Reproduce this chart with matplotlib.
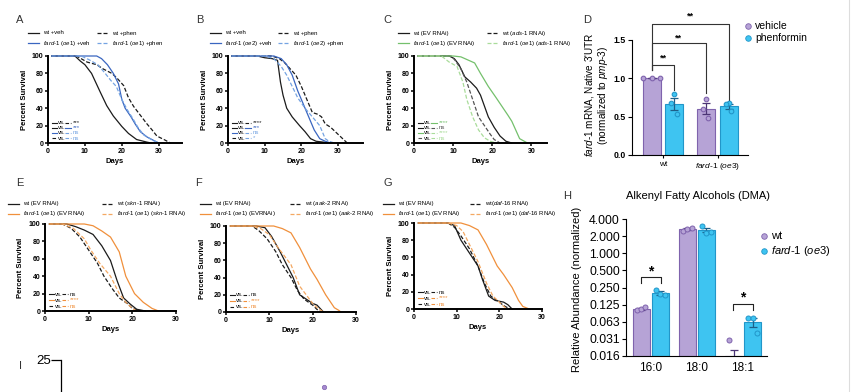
import matplotlib
matplotlib.use('Agg')
import matplotlib.pyplot as plt
import numpy as np
from matplotlib.lines import Line2D

plt.rcParams['font.family'] = ['Liberation Sans', 'DejaVu Sans']
plt.rcParams['mathtext.fontset'] = 'custom'
plt.rcParams['mathtext.it'] = 'Liberation Sans:italic'
plt.rcParams['mathtext.rm'] = 'Liberation Sans'
plt.rcParams['mathtext.bf'] = 'Liberation Sans:bold'

# ---- survival data (days, percent survival) ----
a_wt_veh = ([1, 7.3, 8.8, 10, 11.8, 14.1, 15.9, 17.7, 20, 21.8, 24, 26.8, 28],
            [100, 100, 94, 90, 80, 59, 43, 31, 19, 11, 4, 1, 0])
a_wt_phen = ([1, 7.7, 10.6, 13.2, 15, 17.3, 18.6, 20.5, 21.8, 23.2, 25, 26.8, 28.2, 29.5, 31.4, 33.2],
             [100, 100, 93, 90, 85, 80, 75, 66, 52, 42, 32, 22, 15, 8, 4, 0])
a_fard_veh = ([1, 13.2, 14.5, 16.1, 17.7, 19.1, 20, 20.9, 22.5, 23.6, 25, 26.8, 28.6, 30],
              [100, 100, 97, 90, 80, 68, 50, 40, 30, 22, 13, 7, 3, 0])
a_fard_phen = ([1, 9, 11, 13.5, 15.5, 17, 18.5, 20, 21.5, 23, 24.5, 26, 28, 30],
               [100, 100, 96, 90, 80, 72, 65, 50, 38, 28, 17, 9, 4, 0])

b_wt_veh = ([1, 8, 10, 12, 13.5, 14.3, 15, 16, 17.5, 19.5, 21, 22.5, 24, 26, 28],
            [100, 100, 98, 97, 95, 70, 55, 40, 30, 20, 13, 5, 2, 1, 0])
b_wt_phen = ([1, 12, 14, 15.5, 17, 18.5, 20, 21.5, 23, 24.5, 25.5, 26.5, 28, 29.5, 31, 32.5],
             [100, 100, 97, 92, 85, 78, 65, 50, 35, 33, 30, 22, 18, 12, 6, 0])
b_fard_veh = ([1, 12.5, 14.5, 16, 17.5, 19, 20.5, 22, 23.5, 25, 26.5, 28],
              [100, 100, 97, 90, 78, 60, 45, 30, 15, 5, 2, 0])
b_fard_phen = ([1, 10, 12.5, 14.5, 16, 17.5, 19, 21, 23, 25, 26.5, 27.5, 29],
               [100, 100, 97, 88, 78, 65, 52, 40, 30, 20, 5, 2, 0])

c_wt_ev = ([1, 9, 10.3, 11.5, 13, 14.5, 16, 17, 17.8, 19, 20.5, 22, 23.5, 25],
           [100, 100, 97, 90, 76, 70, 63, 55, 45, 30, 18, 8, 2, 0])
c_wt_ads = ([1, 9.5, 10.5, 12, 13.5, 15, 16.5, 18, 19.5, 20.5, 22],
            [100, 100, 95, 85, 70, 50, 30, 20, 10, 4, 0])
c_fard_ev = ([1, 10, 12, 14, 15.5, 17, 19, 21, 22.5, 24, 25, 26, 27, 29],
             [100, 100, 99, 95, 92, 80, 65, 52, 42, 32, 25, 15, 5, 0])
c_fard_ads = ([1, 7, 9, 11, 12.5, 13.5, 15, 16.5, 18, 19.5, 21],
              [100, 100, 93, 88, 70, 50, 30, 15, 6, 2, 0])

e_wt_ev = ([1, 5, 7, 9, 11, 13, 15, 16.5, 18, 19.5, 21, 23],
           [100, 100, 97, 93, 88, 75, 58, 35, 15, 8, 2, 0])
e_wt_skn = ([1, 4, 6, 8, 10, 12, 13.5, 15.5, 17, 19, 20, 22],
            [100, 100, 95, 85, 70, 55, 40, 25, 15, 8, 3, 0])
e_fard_ev = ([1, 9, 11, 13, 15, 17, 18.5, 20.5, 22.5, 24.5, 26],
             [100, 100, 98, 92, 85, 68, 40, 20, 10, 3, 0])
e_fard_skn = ([1, 4, 6.5, 9, 10.5, 12.5, 15, 16, 17, 18.5, 20, 21],
              [100, 100, 95, 83, 70, 55, 40, 30, 20, 10, 3, 0])

f_wt_ev = ([1, 7, 9, 10.5, 12.5, 14, 15.5, 17, 18.5, 20, 21, 22.5],
           [100, 100, 98, 88, 70, 55, 40, 20, 15, 10, 8, 0])
f_wt_aak = ([1, 6, 7.5, 9.5, 11.5, 13, 15, 16.5, 18, 20, 21, 22],
            [100, 100, 95, 85, 70, 55, 40, 25, 15, 8, 3, 0])
f_fard_ev = ([1, 11, 13, 15, 17, 19.5, 21, 23, 25, 26, 26.5],
             [100, 100, 97, 92, 75, 50, 38, 20, 5, 2, 0])
f_fard_aak = ([1, 6, 8, 10, 12, 15, 17, 18.5, 20, 21, 22.5],
              [100, 100, 97, 90, 75, 55, 30, 20, 10, 5, 0])

g_wt_ev = ([1, 8, 9.5, 11, 13, 15, 16, 17.5, 19, 21, 22, 23],
           [100, 100, 97, 80, 65, 50, 35, 15, 10, 8, 5, 0])
g_wt_daf = ([1, 8, 9.5, 11, 13, 15, 16.5, 18, 20, 21, 22.5],
            [100, 100, 95, 85, 70, 50, 30, 15, 8, 4, 0])
g_fard_ev = ([1, 11, 13, 15, 17, 19.5, 21, 23, 24.5, 25.5, 27],
             [100, 100, 97, 92, 75, 50, 40, 25, 10, 3, 0])
g_fard_daf = ([1, 8, 10, 11.5, 13, 15, 17, 18.5, 20, 21, 22],
              [100, 100, 97, 90, 75, 55, 30, 15, 8, 3, 0])

# ---- panel D: fard-1 mRNA ----
d_groups = ['wt', 'fard-1 (oe3)']
d_vehicle = [[1.0, 1.0, 1.0], [0.73, 0.60, 0.48]]
d_phenformin = [[0.79, 0.68, 0.53], [0.68, 0.66, 0.57]]

# ---- panel H: alkenyl fatty alcohols ----
h_groups = ['16:0', '18:0', '18:1']
h_wt = [[0.100, 0.106, 0.112], [2.50, 2.65, 2.80], [0.030, 0.0, 0.0]]
h_fard = [[0.23, 0.19, 0.185], [3.0, 2.3, 2.4], [0.072, 0.072, 0.040]]
h_ticks = [0.015625, 0.03125, 0.0625, 0.125, 0.25, 0.5, 1, 2, 4]
h_ticklabels = ['0.016', '0.031', '0.063', '0.125', '0.250', '0.500', '1.000', '2.000', '4.000']

# ---- panel I (cut off) ----
i_x = [1.7]
i_y = [21.6]

BLK = '#1b1b1b'
GRAY = '#555555'
BLUE = '#3a66c0'
BLUE_L = '#74a3e2'
GREEN = '#74c06c'
GREEN_L = '#a9dc9a'
ORANGE = '#f0903c'
ORANGE_L = '#f4a862'
PUR, PUR_E, PUR_D = '#b6a3d6', '#7f63ad', '#4b3575'
CYA, CYA_E, CYA_D = '#3ec4f1', '#2296c9', '#1e5f88'
DASH = (0, (3.2, 1.6))

W, H = 860, 392
fig = plt.figure(figsize=(8.6, 3.92), dpi=100)


def box(l, t, r, b):
    return fig.add_axes([l / W, 1 - b / H, (r - l) / W, (b - t) / H])


def ftext(x, y, s, **kw):
    return fig.text(x / W, 1 - y / H, s, **kw)


def fline(xs, ys, **kw):
    fig.add_artist(Line2D([x / W for x in xs], [1 - y / H for y in ys], **kw))


def ital(s):
    return '-'.join('$\\mathit{%s}$' % p.replace(' ', '\\ ') for p in s.split('-'))


def survival(bx, curves, xmax, legend, cols, rows_y, stats):
    l, t, r, b = bx
    ax = box(l, t, r, b)
    for (days, pct), color, ls in curves:
        ax.plot(days, pct, color=color, ls=ls, lw=0.9, clip_on=False)
    ax.set_xlim(0, xmax)
    ax.set_ylim(0, 100)
    for s in ['top', 'right']:
        ax.spines[s].set_visible(False)
    for s in ['left', 'bottom']:
        ax.spines[s].set_linewidth(1.4)
    ax.set_xticks([0, 10, 20, 30])
    ax.set_yticks([0, 20, 40, 60, 80, 100])
    ax.tick_params(length=2.5, width=1.1, labelsize=5, pad=1)
    for lab in ax.get_xticklabels() + ax.get_yticklabels():
        lab.set_fontweight('bold')
    ax.set_xlabel('Days', fontsize=5.5, fontweight='bold', labelpad=2)
    ftext(l - 24, (t + b) / 2, 'Percent Survival', rotation=90, fontsize=5.5,
          fontweight='bold', ha='center', va='center')
    # legend above axes
    for i, (color, ls, label) in enumerate(legend):
        x0 = cols[i % 2]
        y = rows_y[i // 2]
        fline([x0, x0 + 11], [y, y], color=color, ls=ls, lw=0.9)
        ftext(x0 + 15, y, label, fontsize=4.3, va='center')
    # log-rank comparisons
    step = 5 if len(stats) == 4 else 6
    for k, (ls1, c1, ls2, c2, txt) in enumerate(stats):
        y = b - 5 - step * (len(stats) - 1 - k)
        fline([l + 4, l + 9], [y, y], color=c1, ls=ls1, lw=0.8)
        ftext(l + 10, y, 'vs.', fontsize=4.3, va='center')
        fline([l + 17, l + 23], [y, y], color=c2, ls=ls2, lw=0.8)
        ftext(l + 25, y, txt, fontsize=4.3, va='center', color=c2)
    return ax


fard_oe1 = ital('fard-1 (oe1)')
fard_oe2 = ital('fard-1 (oe2)')

# A
survival((48, 56, 182, 143),
         [(a_wt_veh, BLK, '-'), (a_wt_phen, BLK, DASH), (a_fard_veh, BLUE, '-'), (a_fard_phen, BLUE_L, DASH)],
         36.3,
         [(BLK, '-', 'wt +veh'), (BLK, DASH, 'wt +phen'),
          (BLUE, '-', fard_oe1 + ' +veh'), (BLUE_L, DASH, fard_oe1 + ' +phen')],
         (28, 97), (33, 43),
         [('-', BLK, DASH, BLK, '***'), ('-', BLK, '-', BLUE, '***'),
          ('-', BLUE, DASH, BLUE_L, 'ns'), (DASH, BLK, DASH, BLUE_L, 'ns')])
# B
survival((228, 56, 363, 143),
         [(b_wt_veh, BLK, '-'), (b_wt_phen, BLK, DASH), (b_fard_veh, BLUE, '-'), (b_fard_phen, BLUE_L, DASH)],
         36.8,
         [(BLK, '-', 'wt +veh'), (BLK, DASH, 'wt +phen'),
          (BLUE, '-', fard_oe2 + ' +veh'), (BLUE_L, DASH, fard_oe2 + ' +phen')],
         (210, 278), (33, 43),
         [('-', BLK, DASH, BLK, '****'), ('-', BLK, '-', BLUE, '***'),
          ('-', BLUE, DASH, BLUE_L, 'ns'), (DASH, BLK, DASH, BLUE_L, '*')])
# C
survival((414, 56, 547, 143),
         [(c_wt_ev, BLK, '-'), (c_wt_ads, GRAY, DASH), (c_fard_ev, GREEN, '-'), (c_fard_ads, GREEN_L, DASH)],
         34,
         [(BLK, '-', 'wt (EV RNAi)'), (BLK, DASH, 'wt (' + ital('ads-1') + ' RNAi)'),
          (GREEN, '-', fard_oe1 + ' (EV RNAi)'), (GREEN_L, DASH, fard_oe1 + ' (' + ital('ads-1') + ' RNAi)')],
         (398, 487), (33, 43),
         [('-', BLK, '-', GREEN, '****'), ('-', BLK, DASH, GRAY, 'ns'),
          ('-', GREEN, DASH, GREEN_L, '****'), (DASH, GRAY, DASH, GREEN_L, 'ns')])

efg_stats = [('-', BLK, DASH, BLK, 'ns'), ('-', ORANGE, DASH, ORANGE, '****'), (DASH, BLK, DASH, ORANGE, 'ns')]
# E
survival((45, 224, 176, 311),
         [(e_wt_ev, BLK, '-'), (e_wt_skn, BLK, DASH), (e_fard_ev, ORANGE, '-'), (e_fard_skn, ORANGE_L, DASH)],
         30,
         [(BLK, '-', 'wt (EV RNAi)'), (BLK, DASH, 'wt (' + ital('skn-1') + ' RNAi)'),
          (ORANGE, '-', fard_oe1 + ' (EV RNAi)'), (ORANGE_L, DASH, fard_oe1 + ' (' + ital('skn-1') + ' RNAi)')],
         (8, 102), (204, 214), efg_stats)
# F
survival((226, 226, 356, 312),
         [(f_wt_ev, BLK, '-'), (f_wt_aak, BLK, DASH), (f_fard_ev, ORANGE, '-'), (f_fard_aak, ORANGE_L, DASH)],
         30,
         [(BLK, '-', 'wt (EV RNAi)'), (BLK, DASH, 'wt (' + ital('aak-2') + ' RNAi)'),
          (ORANGE, '-', fard_oe1 + ' (EVRNAi)'), (ORANGE_L, DASH, fard_oe1 + ' (' + ital('aak-2') + ' RNAi)')],
         (200, 290), (204, 214), efg_stats)
# G
survival((414, 223, 542, 309),
         [(g_wt_ev, BLK, '-'), (g_wt_daf, BLK, DASH), (g_fard_ev, ORANGE, '-'), (g_fard_daf, ORANGE_L, DASH)],
         30,
         [(BLK, '-', 'wt (EV RNAi)'), (BLK, DASH, 'wt(' + ital('daf-16') + ' RNAi)'),
          (ORANGE, '-', fard_oe1 + ' (EV RNAi)'), (ORANGE_L, DASH, fard_oe1 + ' (' + ital('daf-16') + ' RNAi)')],
         (383, 470), (204, 214), efg_stats)

# ---- D ----
axd = box(632, 10, 748, 155)
off, bw = 0.21, 0.33
xd = np.arange(len(d_groups))
jit = [-0.15, 0.0, 0.15]
for vals, sign, fc, ec, dc in [(d_vehicle, -1, PUR, PUR_E, PUR_D), (d_phenformin, 1, CYA, CYA_E, CYA_D)]:
    means = np.array([np.mean(v) for v in vals])
    sems = np.array([np.std(v, ddof=1) / np.sqrt(len(v)) for v in vals])
    xs = xd + sign * off
    axd.bar(xs, means, bw, color=fc, edgecolor=ec, lw=0.8, zorder=2)
    axd.errorbar(xs, means, yerr=sems, fmt='none', ecolor=dc, elinewidth=0.9, capsize=3, capthick=0.9, zorder=3)
    for x, v in zip(xs, vals):
        j = jit if np.ptp(v) < 0.05 else [0.0, -0.06, 0.04]
        axd.scatter(x + np.array(j), v, s=11, facecolor=fc, edgecolor=ec, lw=0.8, zorder=4)
axd.set_xlim(-0.57, 1.56)
axd.set_ylim(0, 1.89)
axd.spines['top'].set_visible(False)
axd.spines['right'].set_visible(False)
axd.spines['left'].set_bounds(0, 1.5)
axd.set_yticks([0, 0.5, 1.0, 1.5])
axd.set_yticklabels(['0.0', '0.5', '1.0', '1.5'])
axd.set_xticks(xd)
axd.set_xticklabels(['wt', ital('fard-1 (oe3)')])
axd.tick_params(axis='y', labelsize=6.3, length=3, pad=1.5)
axd.tick_params(axis='x', labelsize=6, length=2.5, pad=2)
for lab in axd.get_yticklabels():
    lab.set_fontweight('bold')
# significance brackets
for x2, yb, yr, ys in [(0 + off, 1.17, 0.85, 1.27), (1 - off, 1.46, 0.81, 1.53), (1 + off, 1.71, 0.72, 1.81)]:
    axd.plot([-off, -off, x2, x2], [1.11, yb, yb, yr], color='#333333', lw=0.8, clip_on=False)
    axd.text((x2 - off) / 2, ys, '**', ha='center', va='center', fontsize=6.5, fontweight='bold')
ftext(597, 95, ital('fard-1') + ' mRNA, Native 3\'UTR\n(normalized to ' + ital('pmp-3') + ')',
      rotation=90, fontsize=7.2, ha='center', va='center', multialignment='center', linespacing=1.0)
for y, c, e, lab in [(26, PUR, PUR_E, 'vehicle'), (38, CYA, CYA_E, 'phenformin')]:
    fline([748], [y], marker='o', ms=4, mfc=c, mec=e, mew=0.6, ls='none')
    ftext(755, y, lab, fontsize=7.5, va='center')

# ---- H ----
axh = box(626, 219, 767, 356)
xh = np.arange(len(h_groups))
offh, bwh = 0.207, 0.37
base = h_ticks[0]
for vals, sign, fc, ec, dc in [(h_wt, -1, PUR, PUR_E, PUR_D), (h_fard, 1, CYA, CYA_E, CYA_D)]:
    means = np.array([np.mean(v) for v in vals])
    sems = np.array([np.std(v, ddof=1) / np.sqrt(len(v)) for v in vals])
    xs = xh + sign * offh
    axh.bar(xs, means - base, bwh, bottom=base, color=fc, edgecolor=ec, lw=0.8, zorder=2)
    lower = np.minimum(sems, means - base * 0.5)
    axh.errorbar(xs, means, yerr=[lower, sems], fmt='none', ecolor=dc, elinewidth=0.9,
                 capsize=3, capthick=0.9, zorder=3)
    for x, v in zip(xs, vals):
        v = np.array(v)
        jx = x + np.array([-0.09, 0.0, 0.09])
        keep = v > 0
        axh.scatter(jx[keep], v[keep], s=13, facecolor=fc, edgecolor=ec, lw=0.7, zorder=4)
axh.set_yscale('log', base=2)
axh.set_ylim(h_ticks[0], h_ticks[-1])
axh.set_xlim(-0.54, 2.52)
axh.set_yticks(h_ticks)
axh.set_yticklabels(h_ticklabels)
axh.minorticks_off()
axh.set_xticks(xh)
axh.set_xticklabels(h_groups)
axh.spines['top'].set_visible(False)
axh.spines['right'].set_visible(False)
axh.tick_params(axis='y', labelsize=8.8, length=3, pad=1.5)
axh.tick_params(axis='x', labelsize=8.5, length=0, pad=4)
for xc, y0, y1, ys in [(0, 0.30, 0.384, 0.47), (2, 0.10, 0.128, 0.164)]:
    axh.plot([xc - 0.21, xc - 0.21, xc + 0.21, xc + 0.21], [y0, y1, y1, y0], color='#222222', lw=0.8)
    axh.text(xc, ys, '*', ha='center', va='center', fontsize=10, fontweight='bold')
ftext(698, 196, 'Alkenyl Fatty Alcohols (DMA)', fontsize=8, ha='center', va='center')
ftext(577, 289, 'Relative Abundance (normalized)', rotation=90, fontsize=8, ha='center', va='center')
for y, c, e, lab in [(236, PUR, PUR_E, 'wt'), (251, CYA, CYA_E, ital('fard-1 (oe3)'))]:
    fline([764], [y], marker='o', ms=4, mfc=c, mec=e, mew=0.6, ls='none')
    ftext(771, y, lab, fontsize=8, va='center')

# ---- I (cut off at the bottom) ----
axi = box(61, 360, 540, 560)
axi.scatter(i_x, i_y, s=10, color='#a68ad0', edgecolor=PUR_E, lw=0.5)
axi.set_xlim(-0.5, 3.5)
axi.set_ylim(0, 25)
for s in ['top', 'right', 'bottom']:
    axi.spines[s].set_visible(False)
axi.spines['left'].set_linewidth(0.9)
axi.set_xticks([])
axi.set_yticks([25])
axi.tick_params(axis='y', labelsize=9.5, length=7, width=0.9, pad=0.5)

# panel letters
for x, y, s in [(20, 20, 'A'), (200, 20, 'B'), (387, 20, 'C'), (587, 20, 'D'),
                (20, 183, 'E'), (198, 183, 'F'), (388, 183, 'G'), (567, 196, 'H'), (21, 366, 'I')]:
    ftext(x, y, s, fontsize=8, color='#333333', ha='center', va='center')

fline([849, 849], [0, 392], color='#dddddd', lw=0.8)

fig.savefig('out.png', dpi=100)
